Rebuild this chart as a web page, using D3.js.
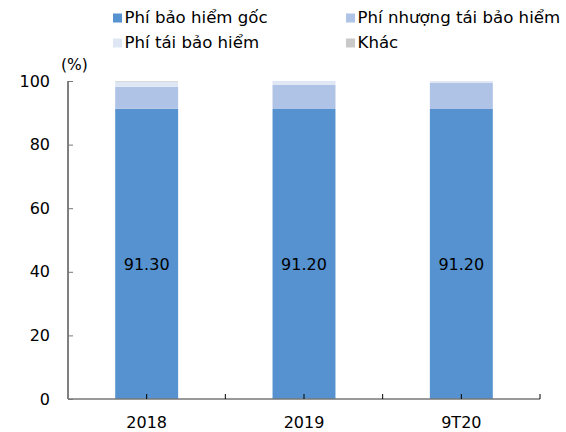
<!DOCTYPE html>
<meta charset="utf-8">
<head>
    <style>
        body { margin: 0; background: #fff; }
        text { font-family: "DejaVu Sans", Verdana, sans-serif; fill: #000; }
    </style>
    <script src="https://d3js.org/d3.v7.min.js"></script>
</head>
<body>
<script>

    // data (%)
    var years = ["2018", "2019", "9T20"];
    var phiGoc = [91.3, 91.2, 91.2];
    var phiNhuong = [6.9, 7.6, 8.3];
    var phiTai = [1.6, 1.2, 0.5];
    var khac = [0.2, 0, 0];
    var labels = ["91.30", "91.20", "91.20"];

    var seriesNames = ["Phí bảo hiểm gốc", "Phí nhượng tái bảo hiểm", "Phí tái bảo hiểm", "Khác"];
    var colors = ["#5592cf", "#aec3e5", "#dfe7f5", "#c9c9c9"];
    var yTicks = [0, 20, 40, 60, 80, 100];

    var width = 566, height = 432;
    var margin = {top: 81, right: 26, bottom: 33, left: 68};

    var svg = d3.select("body").append("svg")
        .attr("width", width)
        .attr("height", height);

    var x = d3.scaleBand()
        .domain(years)
        .range([margin.left, width - margin.right])
        .paddingInner(0.6)
        .paddingOuter(0.3);

    var y = d3.scaleLinear()
        .domain([0, 100])
        .range([height - margin.bottom, margin.top]);

    var rows = years.map(function (d, i) {
        return {year: d, s0: phiGoc[i], s1: phiNhuong[i], s2: phiTai[i], s3: khac[i]};
    });
    var stack = d3.stack().keys(["s0", "s1", "s2", "s3"]);
    var layers = stack(rows);

    svg.append("g").selectAll("g")
        .data(layers)
        .enter().append("g")
        .attr("fill", function (d, i) { return colors[i]; })
        .selectAll("rect")
        .data(function (d) { return d; })
        .enter().append("rect")
        .attr("x", function (d) { return x(d.data.year); })
        .attr("width", x.bandwidth())
        .attr("y", function (d) { return y(d[1]); })
        .attr("height", function (d) { return y(d[0]) - y(d[1]); });

    // value labels
    svg.append("g").selectAll("text")
        .data(labels)
        .enter().append("text")
        .attr("x", function (d, i) { return x(years[i]) + x.bandwidth() / 2; })
        .attr("y", y(42))
        .attr("text-anchor", "middle")
        .attr("dominant-baseline", "middle")
        .style("font-size", "16px")
        .text(function (d) { return d; });

    // y axis
    var yAxis = svg.append("g")
        .attr("transform", "translate(" + margin.left + ",0)")
        .call(d3.axisRight(y).tickValues(yTicks).tickSize(5).tickFormat(""));
    yAxis.select(".domain").attr("stroke", "#000").attr("d", "M0," + y(0) + "V" + y(100));
    yAxis.selectAll(".tick line").attr("stroke", "#777");

    svg.append("g").selectAll("text")
        .data(yTicks)
        .enter().append("text")
        .attr("x", 50)
        .attr("y", function (d) { return y(d) + 1; })
        .attr("text-anchor", "end")
        .attr("dominant-baseline", "middle")
        .style("font-size", "16px")
        .text(function (d) { return d; });

    svg.append("text")
        .attr("x", 61)
        .attr("y", 65)
        .attr("dominant-baseline", "middle")
        .style("font-size", "15.5px")
        .text("(%)");

    // x axis: ticks at category centres and boundaries
    var x0 = margin.left, x1 = width - margin.right;
    var bandStep = (x1 - x0) / years.length;
    var xTickPos = d3.range(0, years.length * 2 + 1).map(function (k) { return x0 + k * bandStep / 2; });
    svg.append("path")
        .attr("d", "M" + x0 + "," + y(0) + "H" + x1)
        .attr("stroke", "#777")
        .attr("stroke-width", 1.5);
    svg.append("g").selectAll("line")
        .data(xTickPos.slice(1))
        .enter().append("line")
        .attr("x1", function (d) { return d; })
        .attr("x2", function (d) { return d; })
        .attr("y1", y(0))
        .attr("y2", y(0) - 5)
        .attr("stroke", "#000");

    svg.append("g").selectAll("text")
        .data(years)
        .enter().append("text")
        .attr("x", function (d, i) { return x0 + bandStep * (i + 0.5); })
        .attr("y", 423)
        .attr("text-anchor", "middle")
        .attr("dominant-baseline", "middle")
        .style("font-size", "16px")
        .text(function (d) { return d; });

    // legend
    var legendPos = [[113, 18], [346, 18], [113, 43], [346, 43]];
    var legend = svg.append("g").selectAll("g")
        .data(seriesNames)
        .enter().append("g")
        .attr("transform", function (d, i) { return "translate(" + legendPos[i][0] + "," + legendPos[i][1] + ")"; });
    legend.append("rect")
        .attr("x", 0).attr("y", -4.5)
        .attr("width", 9).attr("height", 9)
        .attr("fill", function (d, i) { return colors[i]; });
    legend.append("text")
        .attr("x", 11.5)
        .attr("dominant-baseline", "middle")
        .style("font-size", "16.6px")
        .text(function (d) { return d; });

</script>
</body>
